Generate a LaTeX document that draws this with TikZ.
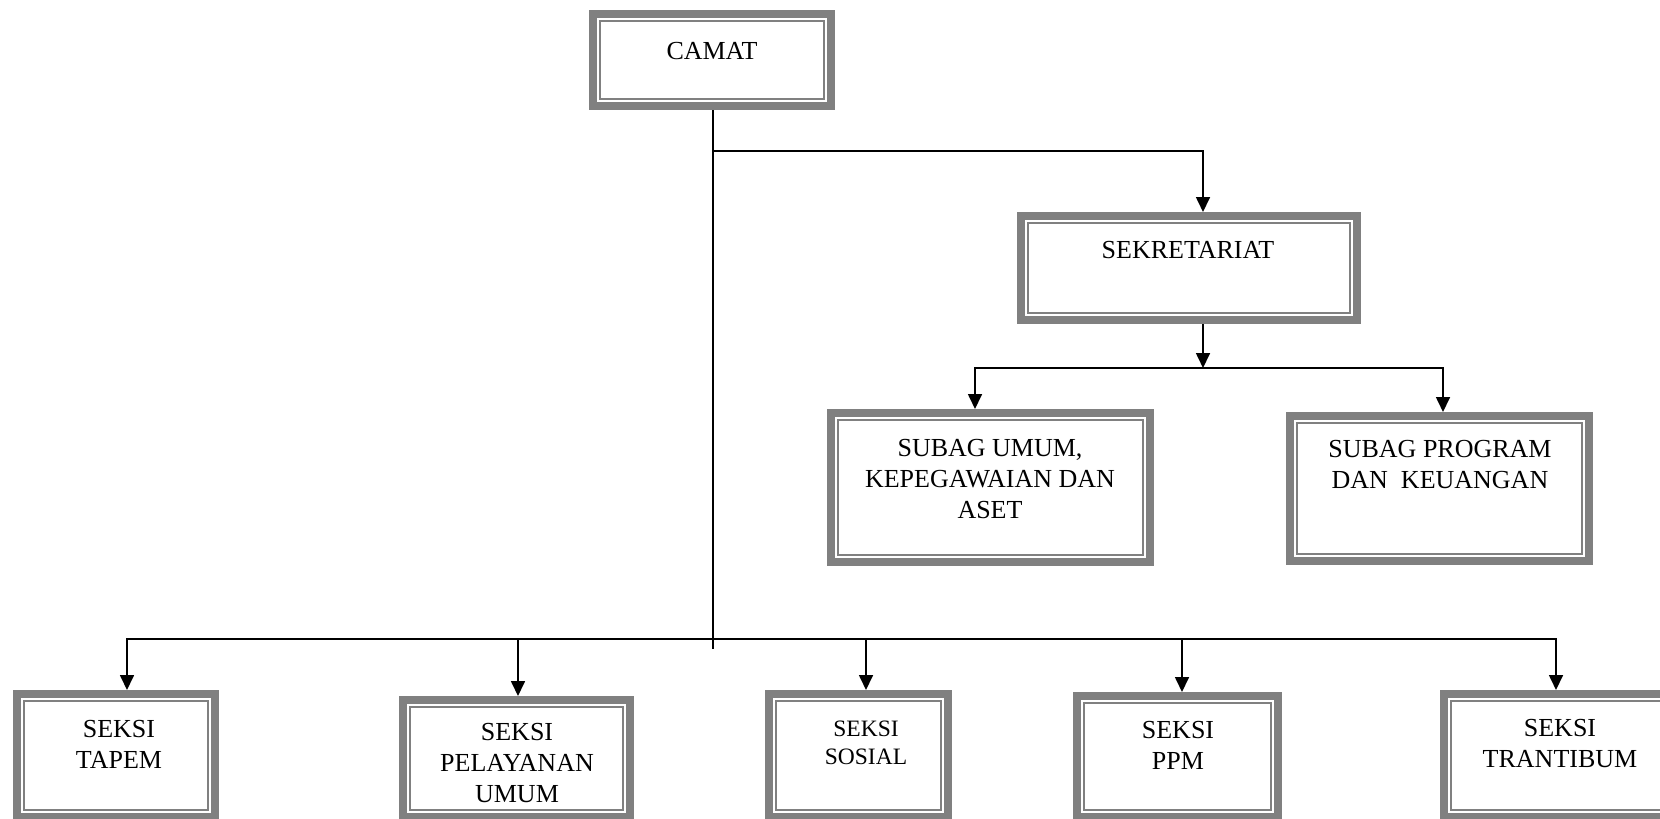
\documentclass[tikz,border=0pt]{standalone}
\usepackage{fontspec}
\setmainfont{Liberation Serif}
\usetikzlibrary{arrows.meta}
\definecolor{boxgray}{RGB}{128,128,128}
\tikzset{
  orgbox/.style={draw=boxgray, line width=8pt, fill=white, inner sep=0pt},
  innerline/.style={draw=boxgray, line width=2pt},
  conn/.style={line width=1.7pt, black},
  arr/.style={line width=1.7pt, black, -{Triangle[length=15pt,width=14pt]}},
  lbl/.style={inner sep=0pt, align=center, font=\fontsize{26}{31}\selectfont},
  lblsmall/.style={inner sep=0pt, align=center, font=\fontsize{23.5}{28}\selectfont}
}
\newcommand\orgbox[5]{%
  \node[orgbox, minimum width={(#4-#2-8)*1pt}, minimum height={(#5-#3-8)*1pt}] (#1) at ({(#2+#4)/2},{(#3+#5)/2}) {};
  \draw[innerline] ([shift={(11,11)}]#1.north west) rectangle ([shift={(-11,-11)}]#1.south east);
}
\begin{document}
\begin{tikzpicture}[x=1pt,y=-1pt]
\useasboundingbox (0,0) rectangle (1660,819);
\fill[white] (0,0) rectangle (1660,819);
\clip (0,0) rectangle (1660,819);

% boxes
\orgbox{camat}{589}{10}{835}{110}
\orgbox{sek}{1017}{212}{1361}{324}
\orgbox{umum}{827}{409}{1154}{566}
\orgbox{prog}{1286}{412}{1593}{565}
\orgbox{tapem}{13}{690}{219}{821}
\orgbox{pel}{399}{696}{634}{821}
\orgbox{sos}{765}{690}{952}{821}
\orgbox{ppm}{1073}{692}{1282}{821}
\orgbox{tran}{1440}{690}{1672}{821}

% texts
\node[lbl, anchor=north] (camat-t) at (712,42.5) {CAMAT};
\node[lbl, anchor=north] (sek-t) at (1188,241.5) {SEKRETARIAT};
\node[lbl, anchor=north] (umum-t) at (990,439.5) {SUBAG UMUM,\\KEPEGAWAIAN DAN\\ASET};
\node[lbl, anchor=north] (prog-t) at (1440,440.5) {SUBAG PROGRAM\\DAN~~KEUANGAN};
\node[lbl, anchor=north] (tapem-t) at (119,720.5) {SEKSI\\TAPEM};
\node[lbl, anchor=north] (pel-t) at (517,723.5) {SEKSI\\PELAYANAN\\UMUM};
\node[lblsmall, anchor=north] (sos-t) at (866,721) {SEKSI\\SOSIAL};
\node[lbl, anchor=north] (ppm-t) at (1178,721.5) {SEKSI\\PPM};
\node[lbl, anchor=north] (tran-t) at (1560,719.5) {SEKSI\\TRANTIBUM};

% junctions
\coordinate (j0) at (713,151);
\coordinate (jend) at (713,649);
\coordinate (jb) at (713,639);
\coordinate (sekx) at (1203,0);
\coordinate (j2) at (1203,368);
\coordinate (ux) at (975,0);
\coordinate (px) at (1443,0);
\coordinate (tx) at (127,0);
\coordinate (plx) at (518,0);
\coordinate (sx) at (866,0);
\coordinate (ppx) at (1182,0);
\coordinate (trx) at (1556,0);

% connectors
\draw[conn] (camat.south -| j0) -- (jend);
\draw[arr] (j0) -| (sek.north -| sekx);
\draw[arr] (sek.south -| sekx) -- (j2);
\draw[arr] (j2) -| (umum.north -| ux);
\draw[arr] (j2) -| (prog.north -| px);
\draw[arr] (jb) -| (tapem.north -| tx);
\draw[arr] (jb) -| (pel.north -| plx);
\draw[arr] (jb) -| (sos.north -| sx);
\draw[arr] (jb) -| (ppm.north -| ppx);
\draw[arr] (jb) -| (tran.north -| trx);
\end{tikzpicture}
\end{document}
